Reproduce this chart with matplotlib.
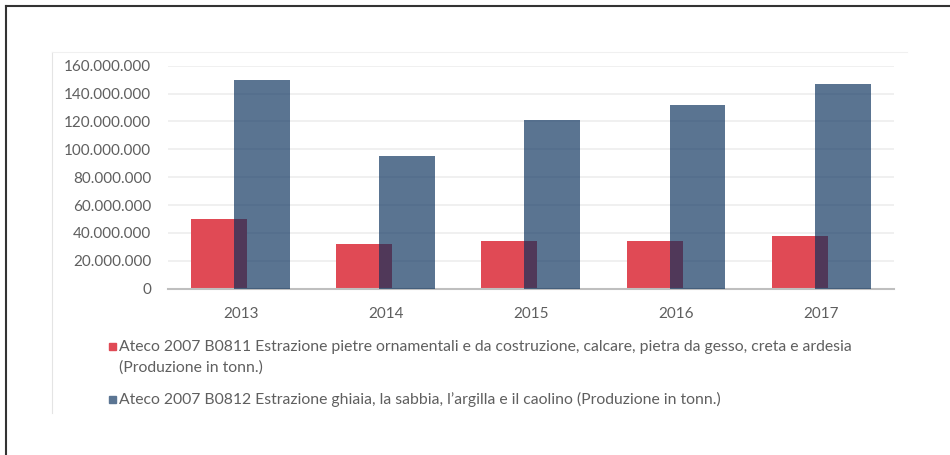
import matplotlib
matplotlib.use("Agg")
import matplotlib.pyplot as plt
from matplotlib.ticker import FuncFormatter, MultipleLocator
from matplotlib.patches import Rectangle
from matplotlib.lines import Line2D
import numpy as np

years = ["2013", "2014", "2015", "2016", "2017"]
b0811 = [49_800_000, 32_100_000, 34_000_000, 34_000_000, 37_600_000]
b0812 = [149_500_000, 95_400_000, 120_800_000, 132_000_000, 146_900_000]
labels = [
    "Ateco 2007 B0811 Estrazione pietre ornamentali e da costruzione, calcare, pietra da gesso, creta e ardesia\n(Produzione in tonn.)",
    "Ateco 2007 B0812 Estrazione ghiaia, la sabbia, l\u2019argilla e il caolino (Produzione in tonn.)",
]

RED = "#E04A55"
BLUE = (9/255, 48/255, 92/255, 0.67)
TXT = "#5F5F5F"
FONT = ["Lato", "DejaVu Sans"]

W, H = 950, 455
fig = plt.figure(figsize=(W/100, H/100), dpi=100)

def fx(px):
    return px / W

def fy(py):
    return 1 - py / H

ax = fig.add_axes([fx(168), fy(288.7), fx(894) - fx(168), fy(65.7) - fy(288.7)])
x = np.arange(len(years))
w = 0.385
ax.bar(x - 0.149, b0811, width=w, color=RED, zorder=2)
ax.bar(x + 0.147, b0812, width=w, color=BLUE, zorder=3)

ax.set_xlim(-0.5, len(years) - 0.5)
ax.set_ylim(0, 160_000_000)
ax.yaxis.set_major_locator(MultipleLocator(20_000_000))
ax.yaxis.set_major_formatter(FuncFormatter(lambda v, p: f"{int(v):,}".replace(",", ".")))
ax.set_xticks(x)
ax.set_xticklabels(years)
ax.tick_params(length=0, colors=TXT, labelsize=11)
ax.tick_params(axis="y", pad=12)
ax.tick_params(axis="x", pad=13)
for lab in ax.get_xticklabels() + ax.get_yticklabels():
    lab.set_family(FONT)
ax.grid(axis="y", color="#EDEDED", linewidth=1.2, zorder=0)
ax.set_axisbelow(True)
for s in ["top", "right", "left"]:
    ax.spines[s].set_visible(False)
ax.spines["bottom"].set_color("#BFBFBF")
ax.spines["bottom"].set_linewidth(1.5)

# Legend (manual)
fs = 10.5
tx = 119
t1 = fig.text(fx(tx), fy(357), labels[0], family=FONT, fontsize=fs, color=TXT,
              va="center", ha="left", linespacing=1.55)
t2 = fig.text(fx(tx), fy(399), labels[1], family=FONT, fontsize=fs, color=TXT,
              va="center", ha="left")
fig.canvas.draw()
r = fig.canvas.get_renderer()
probe = fig.text(0, 0, labels[0].split("\n")[0], family=FONT, fontsize=fs)
wpx = probe.get_window_extent(r).width
probe.remove()
nfs = fs * (859 - tx) / wpx
t1.set_fontsize(nfs)
t2.set_fontsize(nfs)

fig.patches.append(Rectangle((fx(109), fy(350)), fx(7), fy(343) - fy(350),
                             transform=fig.transFigure, color=RED))
fig.patches.append(Rectangle((fx(109), fy(403)), fx(7), fy(396) - fy(403),
                             transform=fig.transFigure, color=(91/255, 117/255, 147/255)))

# frame lines
fig.add_artist(Line2D([fx(6), fx(6)], [fy(6), 0], transform=fig.transFigure, color="#333333", lw=1.5))
fig.add_artist(Line2D([fx(6), 1], [fy(6), fy(6)], transform=fig.transFigure, color="#333333", lw=1.5))
fig.add_artist(Line2D([fx(52), fx(52)], [fy(52), fy(413)], transform=fig.transFigure, color="#E4E4E4", lw=0.8))
fig.add_artist(Line2D([fx(52), fx(907)], [fy(52), fy(52)], transform=fig.transFigure, color="#F0F0F0", lw=0.8))

fig.savefig("out.png", dpi=100)
